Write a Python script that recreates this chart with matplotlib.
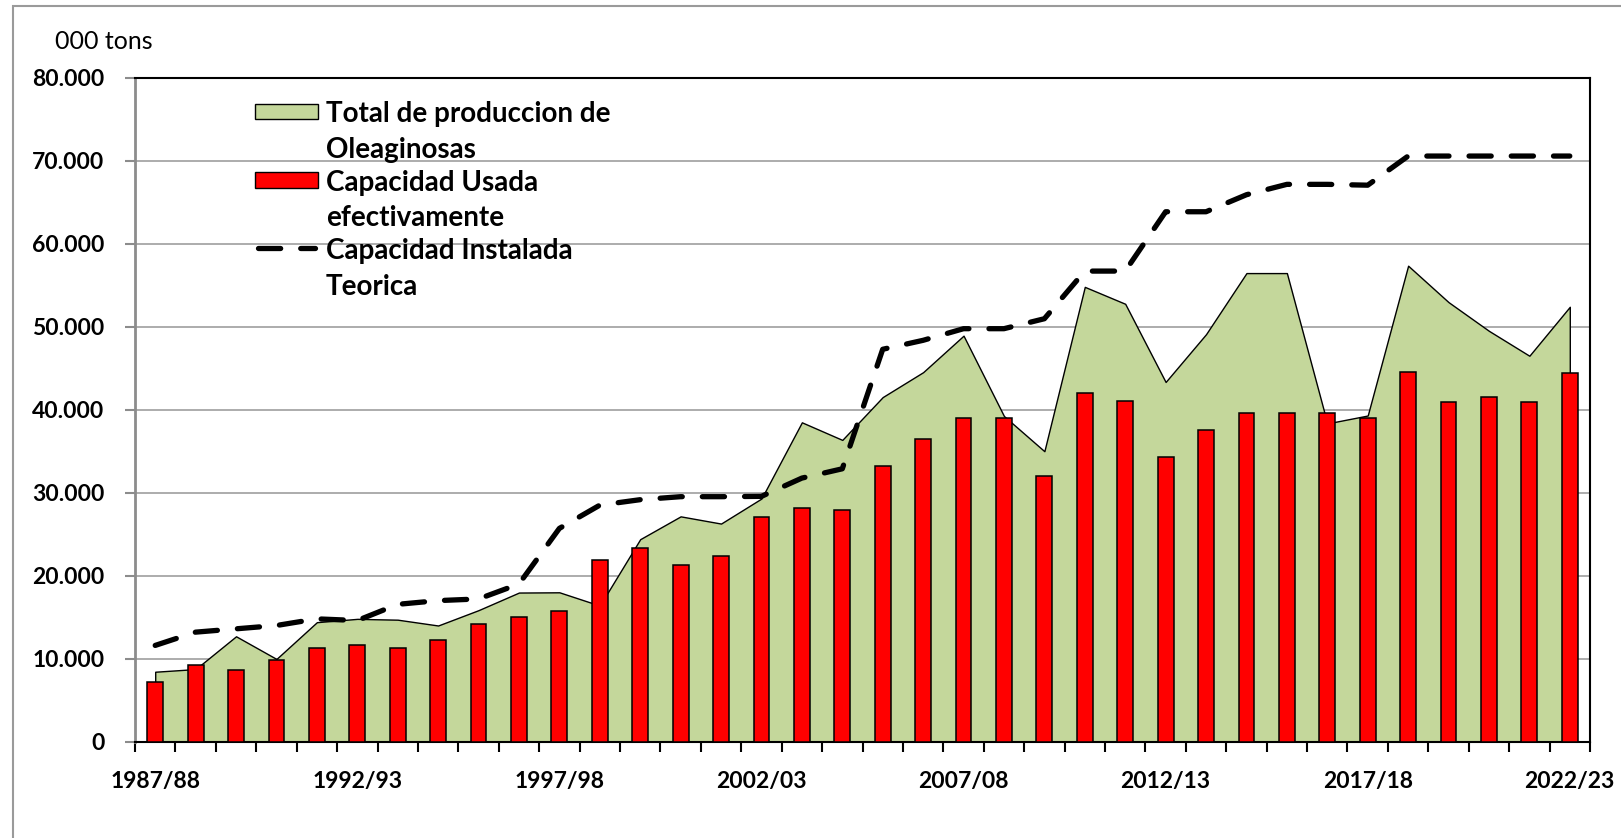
import matplotlib
matplotlib.use("Agg")
import matplotlib.pyplot as plt
from matplotlib.patches import Rectangle
from matplotlib.lines import Line2D
from matplotlib.ticker import FuncFormatter, FixedLocator

plt.rcParams['font.family'] = ['Lato', 'DejaVu Sans']

# campañas
campanas = ["1987/88", "1988/89", "1989/90", "1990/91", "1991/92", "1992/93",
            "1993/94", "1994/95", "1995/96", "1996/97", "1997/98", "1998/99",
            "1999/00", "2000/01", "2001/02", "2002/03", "2003/04", "2004/05",
            "2005/06", "2006/07", "2007/08", "2008/09", "2009/10", "2010/11",
            "2011/12", "2012/13", "2013/14", "2014/15", "2015/16", "2016/17",
            "2017/18", "2018/19", "2019/20", "2020/21", "2021/22", "2022/23"]

# miles de toneladas
produccion_total = [8430, 8750, 12700, 9970, 14400, 14800, 14700, 14000, 15850, 17970,
                    18000, 16400, 24400, 27150, 26280, 29300, 38480, 36360, 41520, 44520,
                    48920, 39240, 35000, 54800, 52760, 43340, 49100, 56460, 56460, 38350,
                    39300, 57350, 52960, 49500, 46500, 52400]
capacidad_usada = [7230, 9280, 8590, 9880, 11250, 11600, 11280, 12290, 14180, 14980,
                   15710, 21950, 23280, 21240, 22320, 27040, 28160, 27960, 33160, 36520,
                   39040, 39040, 32040, 41960, 41050, 34300, 37550, 39640, 39640, 39640,
                   38950, 44580, 40960, 41490, 40960, 44460]
capacidad_instalada = [11600, 13200, 13600, 14000, 14800, 14600, 16550, 17000, 17200, 19000,
                       25700, 28500, 29160, 29520, 29520, 29560, 31760, 32880, 47280, 48360,
                       49760, 49760, 50960, 56700, 56700, 63850, 63850, 65900, 67150, 67150,
                       67050, 70560, 70560, 70560, 70560, 70560]

etiquetas_x = ["1987/88", "1992/93", "1997/98", "2002/03", "2007/08", "2012/13", "2017/18", "2022/23"]
leyenda = ["Total de produccion de\nOleaginosas",
           "Capacidad Usada\nefectivamente",
           "Capacidad Instalada\nTeorica"]

verde = "#C4D79B"
rojo = "#FF0000"
gris = "#8C8C8C"

fig = plt.figure(figsize=(16.21, 8.38), dpi=100)
ax = fig.add_axes([135 / 1621, 1 - 741.7 / 838, 1455 / 1621, 664 / 838])

x = list(range(len(campanas)))

# area, barras y linea
ax.fill_between(x, produccion_total, 0, facecolor=verde, edgecolor="black", linewidth=1.0, zorder=2)
ax.bar(x, capacidad_usada, width=0.39, color=rojo, edgecolor="black", linewidth=1.1, zorder=3)
ax.plot(x, capacidad_instalada, color="black", linewidth=3.8, linestyle=(0, (4.2, 3.8)),
        dash_capstyle="round", zorder=4)

ax.set_xlim(-0.5, len(campanas) - 0.5)
ax.set_ylim(0, 80000)
ax.set_yticks(range(0, 80001, 10000))
ax.yaxis.set_major_formatter(FuncFormatter(lambda v, p: f"{int(v):,}".replace(",", ".")))

ax.xaxis.set_major_locator(FixedLocator([campanas.index(c) for c in etiquetas_x]))
ax.set_xticklabels(etiquetas_x)
ax.xaxis.set_minor_locator(FixedLocator([i - 0.5 for i in range(len(campanas) + 1)]))
ax.tick_params(axis="x", which="major", length=0, pad=21, labelsize=16.5)
ax.tick_params(axis="x", which="minor", length=7, width=1.5, color="black", direction="out")
ax.tick_params(axis="y", length=7, width=1.5, color=gris, pad=15, labelsize=16.5)
for lab in ax.get_xticklabels() + ax.get_yticklabels():
    lab.set_fontweight("bold")

ax.grid(axis="y", color="#A6A6A6", linewidth=1.3, zorder=0)
ax.set_axisbelow(True)
ax.spines["left"].set_color(gris)
ax.spines["left"].set_linewidth(2.0)
for s in ["top", "right", "bottom"]:
    ax.spines[s].set_color("black")
    ax.spines[s].set_linewidth(1.5)

# leyenda hecha a mano (simbolo alineado con la primera linea)
x0, x1, xt = 0.0825, 0.1258, 0.1313
ax.add_patch(Rectangle((x0, 0.9372), x1 - x0, 0.0226, transform=ax.transAxes,
                       facecolor=verde, edgecolor="black", linewidth=1.0, zorder=6))
ax.add_patch(Rectangle((x0, 0.8337), x1 - x0, 0.0241, transform=ax.transAxes,
                       facecolor=rojo, edgecolor="black", linewidth=1.0, zorder=6))
ax.add_line(Line2D([x0 + 0.002, x1 - 0.002], [0.7435, 0.7435], transform=ax.transAxes,
                   color="black", linewidth=3.8, linestyle=(0, (4.2, 3.8)),
                   dash_capstyle="round", zorder=6))
for texto, yc in zip(leyenda, [0.918, 0.815, 0.712]):
    ax.text(xt, yc, texto, transform=ax.transAxes, ha="left", va="center",
            fontsize=20, fontweight="bold", linespacing=1.45, zorder=6)

fig.text(55 / 1621, 1 - 49 / 838, "000 tons", fontsize=18, ha="left", va="baseline")

# marco exterior
fig.patches.append(Rectangle((13 / 1621, -0.05), 1.1, 1 - 6 / 838 + 0.05, transform=fig.transFigure,
                             fill=False, edgecolor="#9A9A9A", linewidth=1.5))

fig.savefig("out.png", dpi=100)
